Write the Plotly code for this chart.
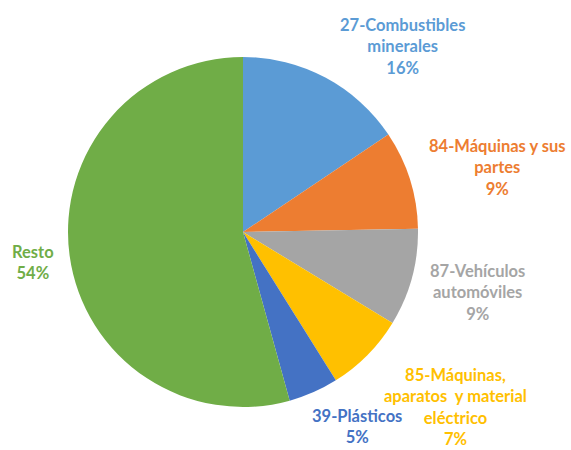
import plotly.graph_objects as go

categories = ["27-Combustibles<br>minerales", "84-Máquinas y sus<br>partes", "87-Vehículos<br>automóviles",
              "85-Máquinas,<br>aparatos  y material<br>eléctrico", "39-Plásticos", "Resto"]
values = [15.6, 9.1, 9.0, 7.4, 4.6, 54.3]
colors = ["#5B9BD5", "#ED7D31", "#A5A5A5", "#FFC000", "#4472C4", "#70AD47"]

# label block centres, in pixels from the top-left of the 571x450 figure
label_x_px = [402, 497, 477, 456, 357, 33]
label_y_px = [46, 168, 292, 407, 426, 262]

W, H = 571, 450
total = sum(values)

fig = go.Figure(go.Pie(
    labels=[c.replace("<br>", " ") for c in categories], values=values, sort=False,
    direction="clockwise", rotation=0,
    marker=dict(colors=colors, line=dict(width=0)),
    textinfo="none",
    domain=dict(x=[68 / W, 418 / W], y=[1 - 407 / H, 1 - 57 / H]),
    showlegend=False, hoverinfo="label+percent",
))

for cat, v, col, lx, ly in zip(categories, values, colors, label_x_px, label_y_px):
    pct = round(v / total * 100)
    fig.add_annotation(
        text=f"{cat}<br>{pct}%", x=lx / W, y=1 - ly / H, xref="paper", yref="paper",
        xanchor="center", yanchor="middle", showarrow=False, align="center",
        font=dict(family="Lato", size=16.5, color=col, weight="bold"),
    )

fig.update_layout(width=W, height=H, margin=dict(l=0, r=0, t=0, b=0),
                  paper_bgcolor="white", plot_bgcolor="white")
fig.write_html("out.html", config={"displayModeBar": False},
               post_script="document.body.style.margin='0';")
